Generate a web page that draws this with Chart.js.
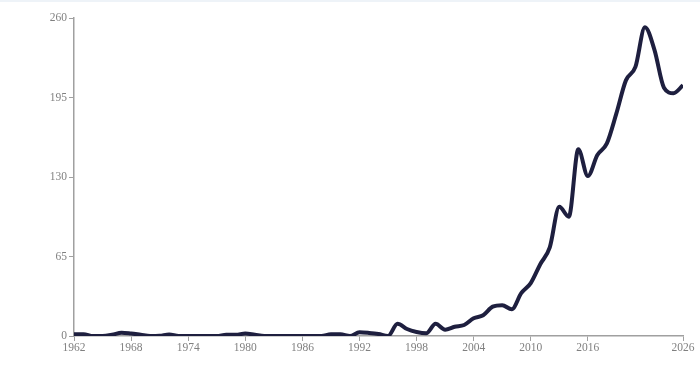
<!DOCTYPE html>
<html>
<head>
<meta charset="utf-8">
<script src="https://cdn.jsdelivr.net/npm/chart.js@4.4.1/dist/chart.umd.min.js"></script>
<style>
  html, body { margin: 0; padding: 0; background: #fff; }
  body { border-top: 2px solid #eef3f8; box-sizing: border-box; width: 700px; height: 366px; }
  #wrap { width: 700px; height: 364px; }
</style>
</head>
<body>
<div id="wrap"><canvas id="lineChart"></canvas></div>
<script>
const years = [];
for (let y = 1962; y <= 2026; y++) years.push(y);

const values = [
  1.5, 1.5, 0, 0, 1, 2.7, 2, 1, 0, 0.2,      // 1962-1971
  1.3, 0, 0, 0, 0, 0, 1, 1, 2, 1,            // 1972-1981
  0, 0, 0, 0, 0, 0, 0, 1.4, 1.4, 0,          // 1982-1991
  3, 2.5, 1.6, 0, 10, 5.7, 3.3, 2.2, 10, 5.2, // 1992-2001
  7.6, 9, 14.5, 17, 24, 25.2, 21.8, 35, 43.3, 58.7, // 2002-2011
  72.5, 105.7, 97.5, 152.6, 130.8, 148, 157.5, 182, 209, 220, // 2012-2021
  252.4, 234, 203, 198.5, 205                // 2022-2026
];

const xTicks = [1962, 1968, 1974, 1980, 1986, 1992, 1998, 2004, 2010, 2016, 2026];
const yTicks = [0, 65, 130, 195, 260];

const axisColor = '#a0a0a0';
const labelFont = { family: '"Liberation Serif", "DejaVu Serif", serif', size: 11.5 };

const ctx = document.getElementById('lineChart').getContext('2d');

const lineChart = new Chart(ctx, {
    type: 'line',
    data: {
        datasets: [{
            label: 'Value',
            data: years.map((yr, i) => ({ x: yr, y: values[i] })),
            borderColor: '#1e1f3f',
            borderWidth: 4,
            pointRadius: 0,
            cubicInterpolationMode: 'monotone',
            fill: false
        }]
    },
    options: {
        responsive: true,
        maintainAspectRatio: false,
        animation: false,
        layout: { padding: { left: 0, right: 17, top: 16, bottom: 0 } },
        plugins: {
            legend: { display: false },
            tooltip: { enabled: false }
        },
        scales: {
            x: {
                type: 'linear',
                min: 1962,
                max: 2026,
                afterBuildTicks: (scale) => { scale.ticks = xTicks.map(v => ({ value: v })); },
                afterFit: (scale) => { scale.height = 30; },
                grid: { drawOnChartArea: false, drawTicks: true, tickLength: 5, color: axisColor },
                border: { display: true, color: axisColor, width: 1.5 },
                ticks: {
                    color: '#808080',
                    font: labelFont,
                    padding: 0,
                    maxRotation: 0,
                    autoSkip: false,
                    callback: (v) => String(v)
                }
            },
            y: {
                min: 0,
                max: 260,
                afterBuildTicks: (scale) => { scale.ticks = yTicks.map(v => ({ value: v })); },
                afterFit: (scale) => { scale.width = 74; },
                grid: { drawOnChartArea: false, drawTicks: true, tickLength: 5, color: axisColor },
                border: { display: true, color: axisColor, width: 1.5 },
                ticks: {
                    color: '#808080',
                    font: labelFont,
                    padding: 2
                }
            }
        }
    }
});
</script>
</body>
</html>
